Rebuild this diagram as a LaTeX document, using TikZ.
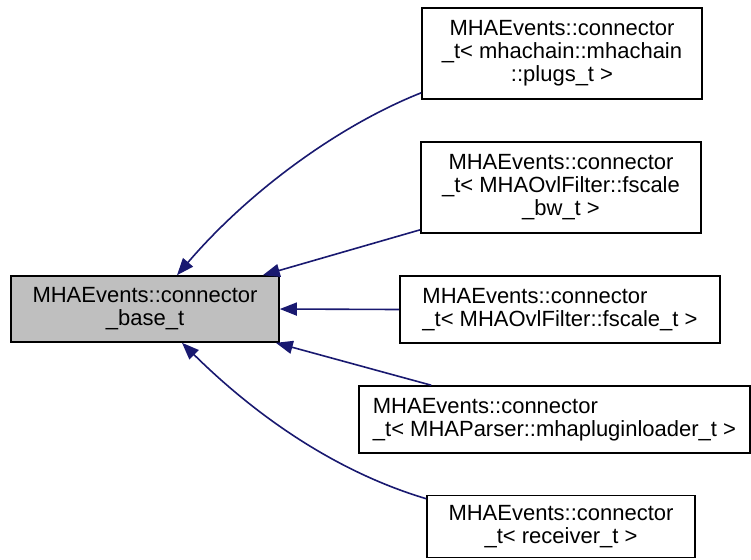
\documentclass[tikz,border=0pt]{standalone}
\usepackage{fontspec}
\setmainfont{Liberation Sans}
\usetikzlibrary{arrows.meta, positioning}

\begin{document}
\begin{tikzpicture}[
    x=0.5pt, y=-0.5pt,
    cls/.style={rectangle, draw, line width=0.8pt, inner sep=0pt, font=\fontsize{11}{11.5}\selectfont},
    edge/.style={-{Triangle[length=8.5pt, width=6.5pt]}, draw=navyblue, line width=0.8pt},
]
\definecolor{navyblue}{HTML}{191970}
\useasboundingbox (0,0) rectangle (751,559);

% Base class
\node[cls, fill=black!25, minimum width=134pt, minimum height=33pt, align=center] (base) at (145,309)
    {MHAEvents::connector\\\_base\_t};

% Derived classes
\node[cls, minimum width=140pt, minimum height=45.5pt, align=center] (plugs) at (562,53.5)
    {MHAEvents::connector\\\_t< mhachain::mhachain\\::plugs\_t >};
\node[cls, minimum width=140pt, minimum height=45.5pt, align=center] (fbw) at (561,187.5)
    {MHAEvents::connector\\\_t< MHAOvlFilter::fscale\\\_bw\_t >};
\node[cls, minimum width=160pt, minimum height=33.5pt, align=left] (fscale) at (560,309.5)
    {MHAEvents::connector\\\_t< MHAOvlFilter::fscale\_t >};
\node[cls, minimum width=195.5pt, minimum height=33.5pt, align=left] (loader) at (554.5,419.5)
    {MHAEvents::connector\\\_t< MHAParser::mhapluginloader\_t >};
\node[cls, minimum width=134pt, minimum height=31pt, align=center] (recv) at (561,526.5)
    {MHAEvents::connector\\\_t< receiver\_t >};

% Inheritance arrows
\draw[edge] ([yshift=3.5pt]plugs.south west) .. controls (340,125) and (250,190) .. ([xshift=16pt]base.north);
\draw[edge] ([yshift=2pt]fbw.south west) -- ([xshift=-8.5pt]base.north east);
\draw[edge] (fscale.west) -- (base.east);
\draw[edge] ([xshift=36.5pt]loader.north west) -- ([xshift=-2pt]base.south east);
\draw[edge] ([yshift=-2pt]recv.north west) .. controls (330,470) and (250,410) .. ([xshift=18.5pt]base.south);

\end{tikzpicture}
\end{document}
